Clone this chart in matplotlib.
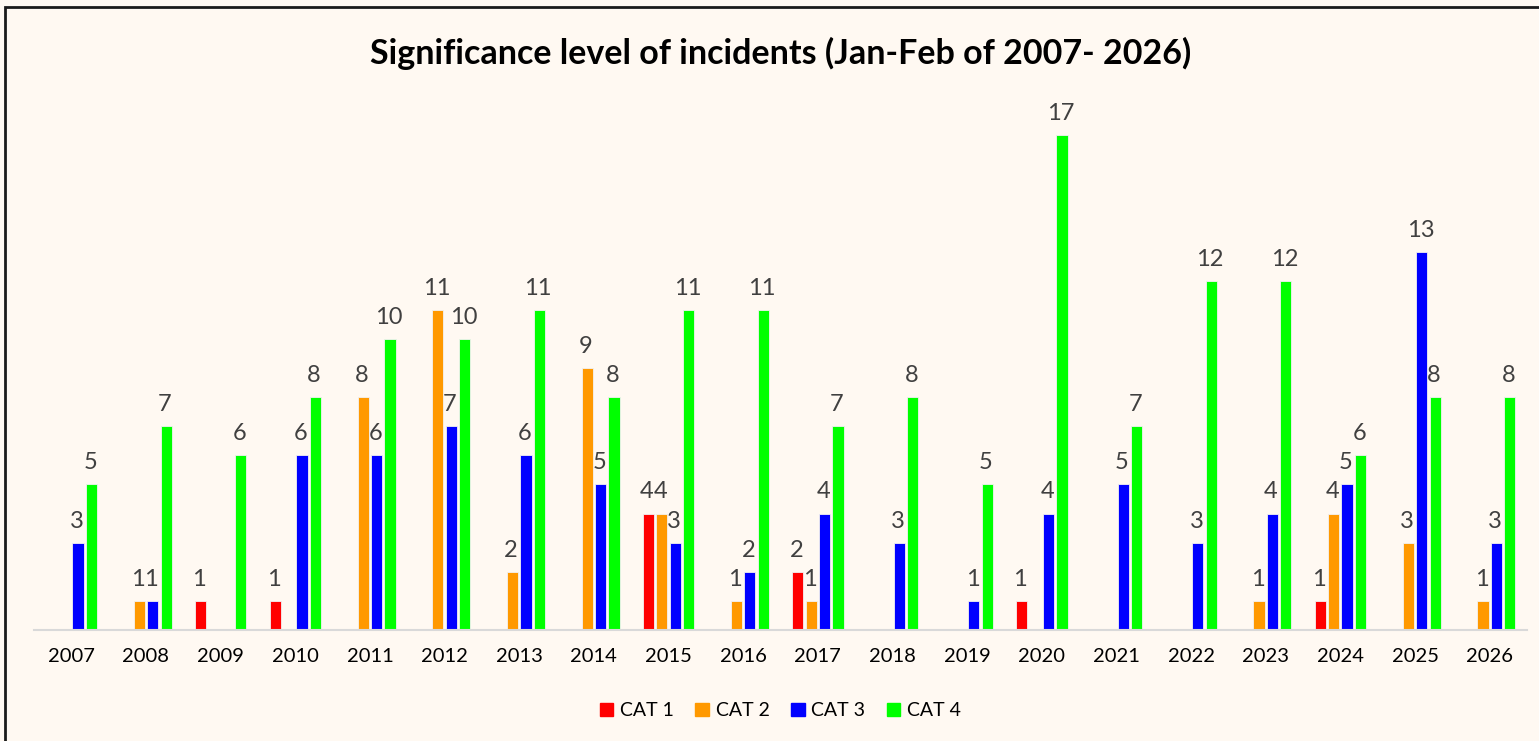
import numpy as np
import matplotlib
matplotlib.use("Agg")
from matplotlib import pyplot as plt
from matplotlib.patches import Rectangle

plt.rcParams['font.family'] = ['Lato', 'DejaVu Sans']

years = [str(y) for y in range(2007, 2027)]
cat1 = [0, 0, 1, 1, 0, 0, 0, 0, 4, 0, 2, 0, 0, 1, 0, 0, 0, 1, 0, 0]
cat2 = [0, 1, 0, 0, 8, 11, 2, 9, 4, 1, 1, 0, 0, 0, 0, 0, 1, 4, 3, 1]
cat3 = [3, 1, 0, 6, 6, 7, 6, 5, 3, 2, 4, 3, 1, 4, 5, 3, 4, 5, 13, 3]
cat4 = [5, 7, 6, 8, 10, 10, 11, 8, 11, 11, 7, 8, 5, 17, 7, 12, 12, 6, 8, 8]
series_names = ['CAT 1', 'CAT 2', 'CAT 3', 'CAT 4']
colors = ['#FF0000', '#FF9900', '#0000FF', '#00FF00']

bg = '#FFF9F2'
fig = plt.figure(figsize=(15.39, 7.41), dpi=100, facecolor=bg)
ax = fig.add_axes([0.0221, 0.1498, 0.9701, 0.707])
ax.set_facecolor(bg)

x = np.arange(len(years))
step = 0.18
width = 0.15
for i, (vals, name, col) in enumerate(zip([cat1, cat2, cat3, cat4], series_names, colors)):
    pos = x + (i - 1.5) * step
    ax.bar(pos, vals, width=width, color=col, label=name,
           edgecolor='#F2F2F2', linewidth=0.6, zorder=2)
    for xp, v in zip(pos, vals):
        if v > 0:
            ax.annotate(str(v), (xp, v), xytext=(-1, 8), textcoords='offset points',
                        ha='center', va='bottom', fontsize=17, color='#404040')

ax.set_xlim(-0.5, len(years) - 0.5)
ax.set_ylim(0, 18)
ax.set_xticks(x)
ax.set_xticklabels(years, fontsize=14.5, color='#000000')
ax.tick_params(axis='x', length=0, pad=13)
ax.set_yticks([])
for s in ['top', 'right', 'left']:
    ax.spines[s].set_visible(False)
ax.spines['bottom'].set_color('#D9D9D9')
ax.spines['bottom'].set_linewidth(1.5)

fig.text(0.507, 0.928, 'Significance level of incidents (Jan-Feb of 2007- 2026)',
         ha='center', va='center', fontsize=24.5, fontweight='bold', color='#000000')

handles = [Rectangle((0, 0), 1, 1, color=c) for c in colors]
fig.legend(handles, series_names, loc='center', bbox_to_anchor=(0.507, 0.041),
           ncol=4, frameon=False, fontsize=14, handlelength=0.7, handleheight=0.7,
           handletextpad=0.35, columnspacing=1.1)

# outer chart frame (right and bottom fall outside the image)
fig.patches.append(Rectangle((5 / 1539, -0.1), 1.2, 0.1 + 734 / 741, transform=fig.transFigure,
                             fill=False, edgecolor='#1A1A1A', linewidth=2, zorder=10))

fig.savefig('out.png', dpi=100, facecolor=bg)
